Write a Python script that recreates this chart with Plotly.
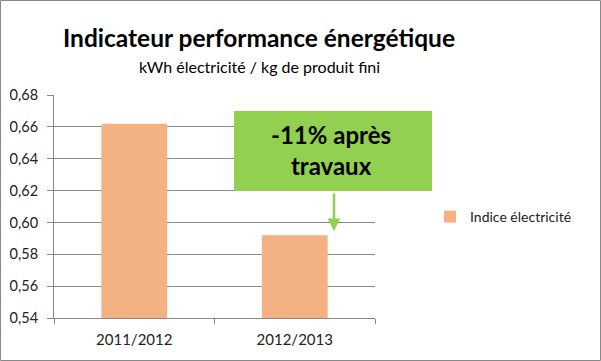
import plotly.graph_objects as go

categories = ["2011/2012", "2012/2013"]
values = [0.662, 0.592]
series_name = "Indice électricité"
title = "Indicateur performance énergétique"
subtitle = "kWh électricité / kg de produit fini"
callout = "-11% après<br>travaux"

L, R, T, B = 54, 375, 95, 318
W, H = 601, 361

def px(x):
    return (x - L) / (R - L)

def py(y):
    return (B - y) / (B - T)

fig = go.Figure()
fig.add_trace(go.Bar(x=categories, y=values, name=series_name,
                     marker=dict(color="#F4B183", line=dict(width=0)),
                     width=0.41, showlegend=True))

font = "Lato, Open Sans, sans-serif"
fig.update_layout(
    width=W, height=H,
    margin=dict(l=L, r=W - R, t=T, b=H - B, autoexpand=False),
    paper_bgcolor="white", plot_bgcolor="white",
    separators=", ",
    font=dict(family=font, size=13, color="#222"),
    showlegend=True,
    legend=dict(xref="container", yref="container", x=430 / W, y=1 - 217 / H,
                xanchor="left", yanchor="middle",
                font=dict(size=14, color="#222"), itemwidth=30),
    xaxis=dict(showline=True, linecolor="#888", linewidth=1, ticks="outside",
               tickcolor="#888", ticklen=5, tickson="boundaries",
               tickfont=dict(size=15), showgrid=False, automargin=False,
               ticklabelstandoff=8),
    yaxis=dict(range=[0.54, 0.68], dtick=0.02, tickformat=".2f",
               showline=True, linecolor="#888", linewidth=1, ticks="outside",
               tickcolor="#888", ticklen=6, gridcolor="#888", gridwidth=1,
               tickfont=dict(size=14.5), zeroline=False, automargin=False,
               ticklabelstandoff=6),
)

# frame
fig.add_shape(type="rect", xref="paper", yref="paper",
              x0=px(0.5), x1=px(W - 0.5), y0=py(H - 0.5), y1=py(0.5),
              line=dict(color="#888", width=1), layer="above")

fig.add_annotation(text="<b>" + title + "</b>", xref="paper", yref="paper",
                   x=px(259), y=py(38), showarrow=False,
                   xanchor="center", yanchor="middle",
                   font=dict(size=24.5, color="black", family=font))
fig.add_annotation(text=subtitle, xref="paper", yref="paper",
                   x=px(259), y=py(66), showarrow=False,
                   xanchor="center", yanchor="middle",
                   font=dict(size=16, color="black", family=font))

# callout box
fig.add_shape(type="rect", xref="paper", yref="paper",
              x0=px(234), x1=px(432), y0=py(191), y1=py(111),
              fillcolor="#92D050", line=dict(width=0), layer="above")
fig.add_annotation(text="<b>" + callout + "</b>", xref="paper", yref="paper",
                   x=px(331), y=py(150), showarrow=False,
                   xanchor="center", yanchor="middle",
                   font=dict(size=24, color="black", family=font))
fig.add_annotation(text="", xref="paper", yref="paper",
                   x=px(334), y=py(231), ax=0, ay=-39, axref="pixel", ayref="pixel",
                   showarrow=True, arrowhead=2, arrowsize=1, arrowwidth=2.5,
                   arrowcolor="#92D050", standoff=0, startstandoff=0)

fig.write_html("out.html", config={"displayModeBar": False},
               post_script="document.body.style.margin='0';document.body.style.padding='0';")
